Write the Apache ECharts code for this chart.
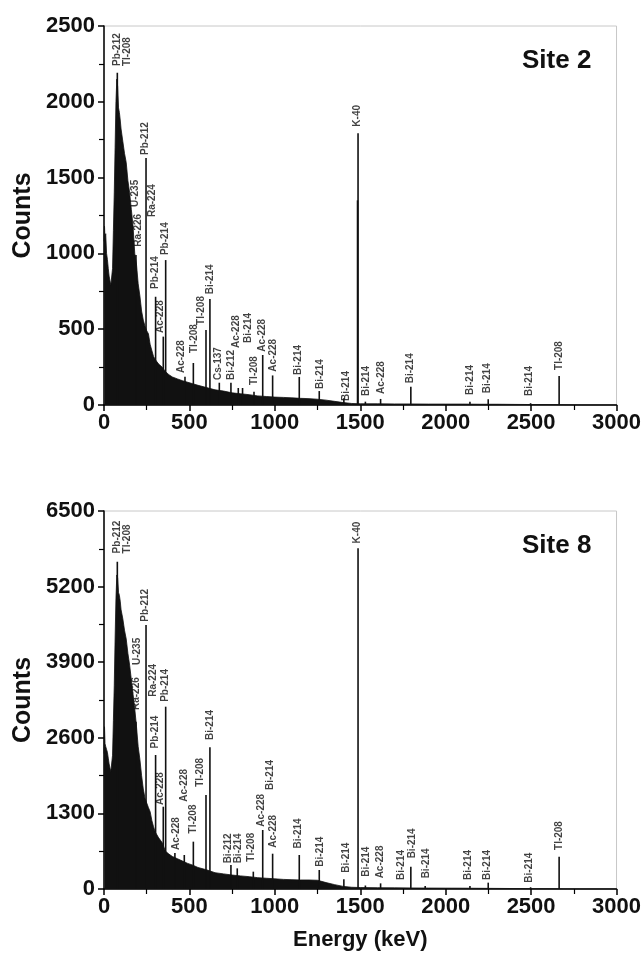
<!DOCTYPE html>
<html>
<head>
<meta charset="utf-8">
<script src="https://cdn.jsdelivr.net/npm/echarts@6/dist/echarts.min.js"></script>
<style>
  html, body { margin: 0; padding: 0; background: #fff; }
  #chart { width: 644px; height: 960px; }
</style>
</head>
<body>
<div id="chart"></div>
<script>
// Gamma-ray spectra of two sampling sites (counts vs. energy)

// Continuum energy grid (keV)
const energyGrid = [0, 3, 6, 10, 15, 20, 25, 30, 35, 40, 45, 50, 55, 60, 65, 70, 75, 80, 85, 90, 95, 100,
  110, 120, 130, 140, 150, 160, 170, 180, 190, 200, 210, 220, 230, 240, 250, 260, 270, 280, 290, 300,
  320, 340, 360, 380, 400, 430, 460, 490, 520, 550, 600, 650, 700, 750, 800, 850, 900, 950, 1000,
  1050, 1100, 1150, 1200, 1250, 1300, 1350, 1400, 1450, 1500, 1600, 1700, 1800, 1900, 2000, 2100,
  2200, 2300, 2400, 2500, 2600, 2700, 2800, 2900, 3000];

// Site 2 continuum counts
const site2Continuum = [1080, 1180, 1090, 1130, 1000, 960, 900, 850, 820, 790, 780, 900, 1150, 1400, 1700, 2000, 2150, 2100, 1960, 1930, 1880, 1820,
  1740, 1660, 1600, 1480, 1400, 1290, 1180, 1000, 930, 800, 720, 620, 560, 520, 490, 470, 400, 360, 320, 300,
  270, 250, 220, 200, 185, 172, 160, 150, 140, 130, 115, 100, 92, 80, 74, 68, 60, 56, 52,
  50, 47, 44, 42, 38, 32, 24, 16, 10, 8, 8, 7, 7, 6, 6, 6,
  5, 5, 4, 3, 3, 1, 0, 0, 0];

// Site 8 continuum counts
const site8Continuum = [2330, 2790, 2500, 2450, 2400, 2350, 2250, 2150, 2080, 2020, 1990, 2300, 2900, 3500, 4300, 5000, 5400, 5350, 5100, 5050, 4950, 4800,
  4650, 4450, 4300, 4050, 3850, 3600, 3350, 3100, 2800, 2450, 2230, 1950, 1720, 1560, 1480, 1400, 1330, 1180, 1070, 980,
  880, 800, 650, 600, 560, 520, 480, 440, 410, 370, 330, 280, 260, 240, 225, 212, 195, 185, 175,
  165, 160, 155, 155, 150, 110, 75, 45, 30, 25, 22, 20, 18, 16, 15, 14,
  12, 10, 8, 6, 3, 1, 0, 0, 0];

// Photopeak lines: energy (keV) and peak counts
const site2PeakEnergy = [78, 187, 246, 302, 347, 361, 474, 523, 597, 620, 675, 743, 786, 811, 878, 929, 987, 1143, 1260, 1404, 1484, 1487, 1530, 1619, 1796, 2142, 2249, 2497, 2664];
const site2PeakCounts = [2192, 989, 1629, 714, 451, 956, 187, 277, 495, 700, 147, 147, 112, 112, 88, 330, 195, 185, 92, 44, 1350, 1792, 22, 40, 120, 22, 38, 12, 191];

const site8PeakEnergy = [78, 187, 246, 302, 347, 361, 415, 470, 523, 597, 620, 743, 780, 874, 929, 987, 1143, 1260, 1404, 1487, 1530, 1619, 1796, 1880, 2142, 2249, 2497, 2664];
const site8PeakCounts = [5627, 2877, 4540, 2304, 1415, 3135, 619, 585, 814, 1617, 2436, 413, 355, 298, 1015, 607, 585, 327, 166, 5859, 60, 97, 384, 52, 52, 109, 30, 556];

// Nuclide annotations: [name, energy (keV), counts at label foot]
const site2Labels = [
  ['Pb-212\nTl-208', 105, 2236], ['Pb-212', 244, 1649], ['U-235', 185, 1306], ['Ra-224', 283, 1240],
  ['Ra-226', 201, 1044], ['Pb-214', 361, 989], ['Pb-214', 302, 765], ['Ac-228', 332, 475],
  ['Ac-228', 455, 211], ['Tl-208', 527, 343], ['Tl-208', 572, 528], ['Bi-214', 620, 730],
  ['Cs-137', 669, 165], ['Bi-212', 747, 165], ['Ac-228', 776, 376], ['Bi-214', 845, 409],
  ['Tl-208', 878, 132], ['Ac-228', 928, 352], ['Ac-228', 991, 220], ['Bi-214', 1137, 198],
  ['Bi-214', 1264, 105], ['Bi-214', 1416, 26], ['K-40', 1484, 1836], ['Bi-214', 1537, 60],
  ['Ac-228', 1625, 73], ['Bi-214', 1790, 143], ['Bi-214', 2142, 66], ['Bi-214', 2245, 77],
  ['Bi-214', 2487, 59], ['Tl-208', 2664, 231]
];

const site8Labels = [
  ['Pb-212\nTl-208', 105, 5771], ['Pb-212', 244, 4597], ['U-235', 195, 3852], ['Ra-226', 191, 3078],
  ['Ra-224', 289, 3306], ['Pb-214', 357, 3219], ['Pb-214', 302, 2418], ['Ac-228', 332, 1445],
  ['Ac-228', 425, 671], ['Ac-228', 468, 1500], ['Tl-208', 523, 956], ['Tl-208', 562, 1758],
  ['Bi-214', 620, 2562], ['Bi-212', 727, 441], ['Bi-214', 786, 441], ['Tl-208', 864, 470],
  ['Ac-228', 923, 1071], ['Bi-214', 971, 1703], ['Ac-228', 991, 710], ['Bi-214', 1137, 698],
  ['Bi-214', 1264, 384], ['Bi-214', 1416, 281], ['K-40', 1484, 5943], ['Bi-214', 1537, 212],
  ['Ac-228', 1619, 183], ['Bi-214', 1742, 155], ['Bi-214', 1804, 527], ['Bi-214', 1888, 183],
  ['Bi-214', 2132, 155], ['Bi-214', 2245, 155], ['Bi-214', 2489, 109], ['Tl-208', 2664, 671]
];

// Axis ranges
const energyMax = 3000, energyStep = 500;
const site2Max = 2500, site2Step = 500;
const site8Max = 6500, site8Step = 1300;

const FONT = 'Liberation Sans, Arial, sans-serif';
const INK = '#111';

function pairs(xs, ys) { return xs.map((x, i) => [x, ys[i]]); }
const plain = v => String(v);

function xAxisFor(gi, withName) {
  return {
    gridIndex: gi, type: 'value', min: 0, max: energyMax, interval: energyStep,
    name: withName ? 'Energy (keV)' : '', nameLocation: 'middle', nameGap: 40,
    nameTextStyle: { fontFamily: FONT, fontSize: 22, fontWeight: 'bold', color: INK },
    axisLine: { lineStyle: { color: '#000', width: 1.5 } },
    axisTick: { inside: false, length: 6, lineStyle: { color: '#000', width: 1.5 } },
    minorTick: { show: true, splitNumber: 2, length: 5, lineStyle: { color: '#000', width: 1.2 } },
    splitLine: { show: false },
    axisLabel: { formatter: plain, fontFamily: FONT, fontSize: 22, fontWeight: 'bold', color: INK, margin: 7 }
  };
}

function yAxisFor(gi, max, step) {
  return {
    gridIndex: gi, type: 'value', min: 0, max: max, interval: step,
    name: 'Counts', nameLocation: 'middle', nameGap: 64,
    nameTextStyle: { fontFamily: FONT, fontSize: 25, fontWeight: 'bold', color: INK },
    axisLine: { show: true, lineStyle: { color: '#000', width: 1.5 } },
    axisTick: { show: true, inside: false, length: 6, lineStyle: { color: '#000', width: 1.5 } },
    minorTick: { show: true, splitNumber: 2, length: 5, lineStyle: { color: '#000', width: 1.2 } },
    splitLine: { show: false },
    axisLabel: { formatter: plain, fontFamily: FONT, fontSize: 22, fontWeight: 'bold', color: INK, margin: 9 }
  };
}

function spectrum(gi, counts) {
  return {
    type: 'line', xAxisIndex: gi, yAxisIndex: gi, data: pairs(energyGrid, counts),
    showSymbol: false, symbol: 'none', silent: true,
    lineStyle: { color: INK, width: 0.8 },
    areaStyle: { color: INK, opacity: 1 }, z: 2
  };
}

function peaks(gi, es, cs) {
  return {
    type: 'bar', xAxisIndex: gi, yAxisIndex: gi, data: pairs(es, cs),
    barWidth: 1.6, itemStyle: { color: INK }, silent: true, z: 3
  };
}

function tags(gi, list) {
  return {
    type: 'scatter', xAxisIndex: gi, yAxisIndex: gi, symbolSize: 0, silent: true, z: 4,
    data: list.map(d => ({ name: d[0], value: [d[1], d[2]] })),
    label: {
      show: true, position: 'top', distance: 0, rotate: 90, align: 'left', verticalAlign: 'middle',
      formatter: p => p.name, fontFamily: FONT, fontSize: 10, fontWeight: 'bold', color: INK, lineHeight: 10
    }
  };
}

const chart = echarts.init(document.getElementById('chart'), null, { renderer: 'canvas' });
chart.setOption({
  backgroundColor: '#fff',
  animation: false,
  title: [
    { text: 'Site 2', left: 517, top: 43, textStyle: { fontFamily: FONT, fontSize: 26, fontWeight: 'bold', color: INK } },
    { text: 'Site 8', left: 517, top: 528, textStyle: { fontFamily: FONT, fontSize: 26, fontWeight: 'bold', color: INK } }
  ],
  grid: [
    { left: 104, right: 27, top: 26, height: 379, show: true, borderColor: '#c8c8c8', borderWidth: 1 },
    { left: 104, right: 27, top: 511, height: 378, show: true, borderColor: '#c8c8c8', borderWidth: 1 }
  ],
  xAxis: [xAxisFor(0, false), xAxisFor(1, true)],
  yAxis: [yAxisFor(0, site2Max, site2Step), yAxisFor(1, site8Max, site8Step)],
  series: [
    spectrum(0, site2Continuum), peaks(0, site2PeakEnergy, site2PeakCounts), tags(0, site2Labels),
    spectrum(1, site8Continuum), peaks(1, site8PeakEnergy, site8PeakCounts), tags(1, site8Labels)
  ]
});
</script>
</body>
</html>
